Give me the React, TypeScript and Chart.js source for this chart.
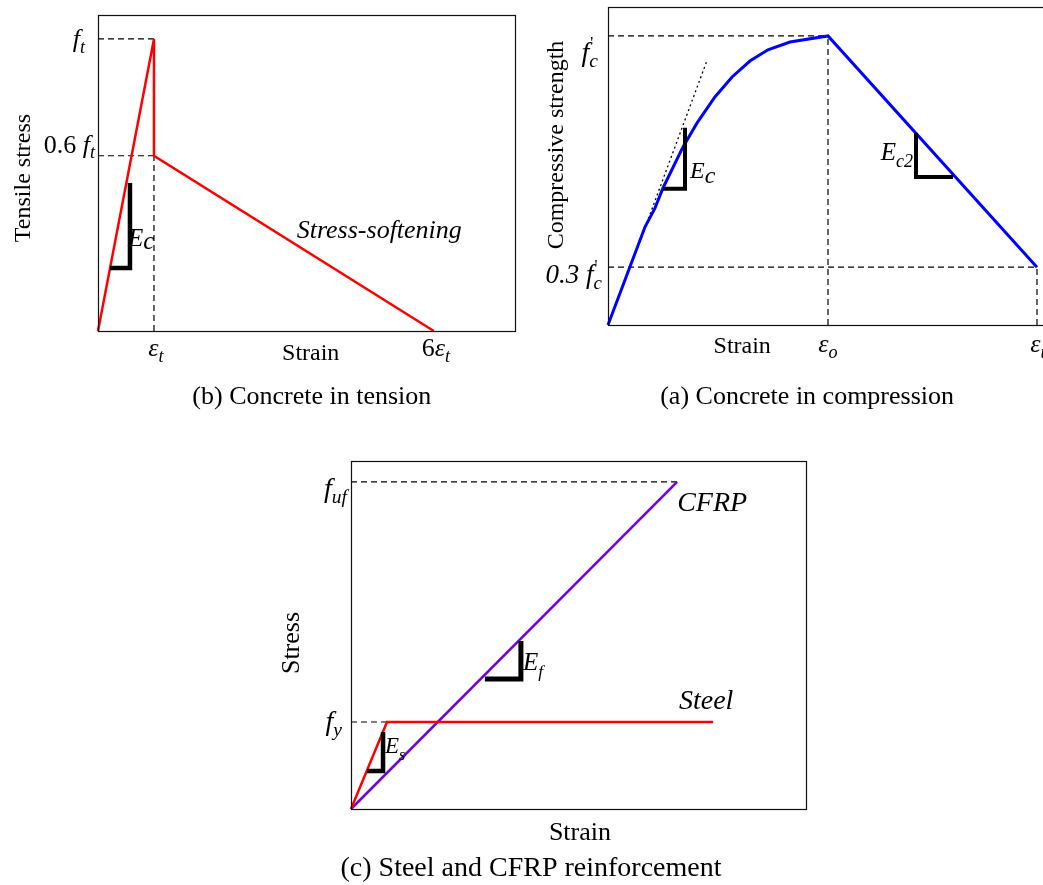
import React, { useEffect, useRef } from 'react';
import { Chart, registerables } from 'chart.js';

Chart.register(...registerables);

const SERIF = '"Liberation Serif", "Times New Roman", Times, serif';

// ---------- (b) Concrete in tension ----------
const tensionStrain = [0, 1, 1, 6];
const tensionStress = [0, 1, 0.6, 0];
const tensionYTicks = [1, 0.6];
const tensionYTickLabels = ['*f*_{t}', '0.6 *f*_{t}'];
const tensionXTicks = [1, 6];
const tensionXTickLabels = ['*ε*_{t}', '6*ε*_{t}'];
const tensionSlopeStrain = [0.214, 0.571, 0.571];
const tensionSlopeStress = [0.216, 0.216, 0.507];

// ---------- (a) Concrete in compression ----------
const compStrain = [0, 0.168, 0.214, 0.25, 0.341, 0.405, 0.486, 0.564, 0.645, 0.727, 0.827, 1, 1.95];
const compStress = [0, 0.339, 0.405, 0.474, 0.616, 0.699, 0.789, 0.858, 0.913, 0.952, 0.979, 1, 0.2];
const compYTicks = [1, 0.2];
const compYTickLabels = ["*f*^{'}_{c}", "*0.3 f*^{'}_{c}"];
const compXTicks = [1, 1.95];
const compXTickLabels = ['*ε*_{o}', '*ε*_{u}'];
const tangentStrain = [0.136, 0.45];
const tangentStress = [0.27, 0.915];
const ecSlopeStrain = [0.25, 0.35, 0.35];
const ecSlopeStress = [0.471, 0.471, 0.682];
const ec2SlopeStrain = [1.4, 1.4, 1.568];
const ec2SlopeStress = [0.664, 0.512, 0.512];

// ---------- (c) Steel and CFRP ----------
const steelStrain = [0, 1, 10.06];
const steelStress = [0, 1, 1];
const cfrpStrain = [0, 9.06];
const cfrpStress = [0, 3.76];
const reinfYTicks = [3.76, 1];
const reinfYTickLabels = ['*f*_{uf}', '*f*_{y}'];
const esSlopeStrain = [0.444, 0.89, 0.89];
const esSlopeStress = [0.437, 0.437, 0.885];
const efSlopeStrain = [3.72, 4.72, 4.72];
const efSlopeStress = [1.494, 1.494, 1.93];

type Seg = { t: string; it?: boolean; s?: number; dy?: number; dx?: number; adv?: boolean };
type RichOpts = { subScale?: number; subDy?: number };

function parseRich(src: string, opts: RichOpts = {}): Seg[] {
  const subScale = opts.subScale ?? 0.7;
  const subDy = opts.subDy ?? 0.22;
  const segs: Seg[] = [];
  let italic = false;
  let buf = '';
  const flush = () => {
    if (buf) {
      segs.push({ t: buf, it: italic });
      buf = '';
    }
  };
  let i = 0;
  while (i < src.length) {
    const c = src[i];
    if (c === '*') {
      flush();
      italic = !italic;
      i++;
      continue;
    }
    if ((c === '_' || c === '^') && src[i + 1] === '{') {
      flush();
      const end = src.indexOf('}', i);
      const txt = src.slice(i + 2, end);
      if (c === '_') segs.push({ t: txt, it: true, s: subScale, dy: subDy });
      else segs.push({ t: txt, it: false, s: 0.6, dy: -0.45, adv: false, dx: 1 });
      i = end + 1;
      continue;
    }
    buf += c;
    i++;
  }
  flush();
  return segs;
}

function fontFor(seg: Seg, size: number) {
  return `${seg.it ? 'italic ' : ''}${(size * (seg.s ?? 1)).toFixed(1)}px ${SERIF}`;
}

function drawRich(
  ctx: CanvasRenderingContext2D,
  src: string,
  x: number,
  y: number,
  size: number,
  align: 'left' | 'right' | 'center',
  opts: RichOpts = {}
) {
  const segs = parseRich(src, opts);
  ctx.textAlign = 'left';
  ctx.textBaseline = 'alphabetic';
  let total = 0;
  const widths = segs.map((s) => {
    ctx.font = fontFor(s, size);
    const w = ctx.measureText(s.t).width;
    if (s.adv !== false) total += w;
    return w;
  });
  let cx = align === 'left' ? x : align === 'right' ? x - total : x - total / 2;
  segs.forEach((s, k) => {
    ctx.font = fontFor(s, size);
    ctx.fillText(s.t, cx + (s.dx ?? 0), y + (s.dy ?? 0) * size);
    if (s.adv !== false) cx += widths[k];
  });
}

function drawVertical(ctx: CanvasRenderingContext2D, text: string, x: number, y: number, size: number) {
  ctx.save();
  ctx.translate(x, y);
  ctx.rotate(-Math.PI / 2);
  drawRich(ctx, text, 0, 0, size, 'center');
  ctx.restore();
}

function line(xs: number[], ys: number[], color: string, width: number, dash: number[] = []) {
  return {
    type: 'line',
    data: xs.map((x, i) => ({ x, y: ys[i] })),
    borderColor: color,
    borderWidth: width,
    borderDash: dash,
    borderCapStyle: 'butt',
    borderJoinStyle: 'miter',
    pointRadius: 0,
    fill: false,
    tension: 0,
    clip: false,
  };
}

type Helpers = {
  ctx: CanvasRenderingContext2D;
  px: (v: number) => number;
  py: (v: number) => number;
  a: { left: number; right: number; top: number; bottom: number };
};

function makeConfig(
  datasets: any[],
  xMax: number,
  yMax: number,
  padding: { left: number; top: number; right: number; bottom: number },
  drawLabels: (h: Helpers) => void
) {
  const decor = {
    id: 'decor',
    afterDatasetsDraw(chart: any) {
      const ctx = chart.ctx as CanvasRenderingContext2D;
      const a = chart.chartArea;
      ctx.save();
      ctx.strokeStyle = '#111';
      ctx.lineWidth = 1.2;
      ctx.strokeRect(
        Math.round(a.left) + 0.5,
        Math.round(a.top) + 0.5,
        Math.round(a.right - a.left),
        Math.round(a.bottom - a.top)
      );
      ctx.restore();
      ctx.save();
      ctx.fillStyle = '#000';
      drawLabels({
        ctx,
        px: (v) => chart.scales.x.getPixelForValue(v),
        py: (v) => chart.scales.y.getPixelForValue(v),
        a,
      });
      ctx.restore();
    },
  };
  return {
    type: 'line',
    data: { datasets },
    options: {
      animation: false,
      responsive: false,
      devicePixelRatio: 1,
      events: [],
      layout: { padding },
      scales: {
        x: { type: 'linear', min: 0, max: xMax, display: false },
        y: { type: 'linear', min: 0, max: yMax, display: false },
      },
      plugins: { legend: { display: false }, tooltip: { enabled: false } },
    },
    plugins: [decor],
  } as any;
}

const DASH = [6, 4];
const DASH_W = 1.2;

function tensionConfig() {
  const ds = [
    line(tensionSlopeStrain, tensionSlopeStress, '#000', 4.5),
    line(tensionStrain, tensionStress, '#ff0000', 2.5),
    line([0, tensionXTicks[0]], [tensionYTicks[0], tensionYTicks[0]], '#000', DASH_W, DASH),
    line([0, tensionXTicks[0]], [tensionYTicks[1], tensionYTicks[1]], '#000', DASH_W, DASH),
    line([tensionXTicks[0], tensionXTicks[0]], [0, tensionYTicks[1]], '#000', DASH_W, DASH),
  ];
  return makeConfig(ds, 7.45, 1.082, { left: 98, top: 15, right: 15, bottom: 89 }, ({ ctx, px, py, a }) => {
    drawRich(ctx, tensionYTickLabels[0], a.left - 13, py(tensionYTicks[0]) + 8, 26, 'right');
    drawRich(ctx, tensionYTickLabels[1], a.left - 3, py(tensionYTicks[1]) - 3, 26, 'right');
    tensionXTicks.forEach((v, i) => drawRich(ctx, tensionXTickLabels[i], px(v) + 2, a.bottom + 25, 26, 'center'));
    drawRich(ctx, 'Strain', px(3.8), a.bottom + 29, 24, 'center');
    drawRich(ctx, '(b) Concrete in tension', px(3.82), a.bottom + 73, 26, 'center');
    drawVertical(ctx, 'Tensile stress', 30, (a.top + a.bottom) / 2 + 5, 24);
    drawRich(ctx, '*Stress-softening*', px(3.55), py(0.318), 26, 'left');
    drawRich(ctx, '*E*_{c}', px(0.536), py(0.29), 25, 'left', { subScale: 1, subDy: 0.12 });
  });
}

function compressionConfig() {
  const ds = [
    line(ecSlopeStrain, ecSlopeStress, '#000', 4),
    line(ec2SlopeStrain, ec2SlopeStress, '#000', 4),
    line(compStrain, compStress, '#0000ff', 3),
    line(tangentStrain, tangentStress, '#000', 1.3, [2, 3]),
    line([0, compXTicks[0]], [compYTicks[0], compYTicks[0]], '#000', DASH_W, DASH),
    line([0, compXTicks[1]], [compYTicks[1], compYTicks[1]], '#000', DASH_W, DASH),
    line([compXTicks[0], compXTicks[0]], [0, compYTicks[0]], '#000', DASH_W, DASH),
    line([compXTicks[1], compXTicks[1]], [0, compYTicks[1]], '#000', DASH_W, DASH),
  ];
  return makeConfig(ds, 2.02, 1.1, { left: 78, top: 7, right: 22.6, bottom: 95 }, ({ ctx, px, py, a }) => {
    drawRich(ctx, compYTickLabels[0], a.left - 10, py(compYTicks[0]) + 25, 28, 'right');
    drawRich(ctx, compYTickLabels[1], a.left - 6, py(compYTicks[1]) + 16, 27, 'right');
    drawRich(ctx, compXTickLabels[0], px(compXTicks[0]), a.bottom + 27, 26, 'center');
    drawRich(ctx, compXTickLabels[1], px(compXTicks[1]) + 3, a.bottom + 27, 26, 'center');
    drawRich(ctx, 'Strain', px(0.61), a.bottom + 28, 24, 'center');
    drawRich(ctx, '(a) Concrete in compression', px(0.905), a.bottom + 79, 26, 'center');
    drawVertical(ctx, 'Compressive strength', 33, 145, 24);
    drawRich(ctx, '*E*_{c}', px(0.373), py(0.509), 24, 'left', { subScale: 1, subDy: 0.2 });
    drawRich(ctx, '*E*_{c2}', px(1.386), py(0.571), 25, 'right', { subScale: 0.72, subDy: 0.3 });
  });
}

function reinforcementConfig() {
  const ds = [
    line(esSlopeStrain, esSlopeStress, '#000', 4.5),
    line(efSlopeStrain, efSlopeStress, '#000', 5),
    line(steelStrain, steelStress, '#ff0000', 2.5),
    line(cfrpStrain, cfrpStress, '#7000e0', 2.5),
    line([0, cfrpStrain[1]], [reinfYTicks[0], reinfYTicks[0]], '#000', DASH_W, DASH),
    line([0, steelStrain[1]], [reinfYTicks[1], reinfYTicks[1]], '#000', DASH_W, DASH),
  ];
  return makeConfig(ds, 12.64, 4, { left: 81, top: 21, right: 24, bottom: 76 }, ({ ctx, px, py, a }) => {
    drawRich(ctx, reinfYTickLabels[0], a.left - 4, py(reinfYTicks[0]) + 15, 28, 'right');
    drawRich(ctx, reinfYTickLabels[1], a.left - 9, py(reinfYTicks[1]) + 8, 28, 'right');
    drawRich(ctx, 'Strain', px(6.36), a.bottom + 31, 26, 'center');
    drawRich(ctx, '(c) Steel and CFRP reinforcement', px(5.0), a.bottom + 67, 28, 'center');
    drawVertical(ctx, 'Stress', 29, (a.top + a.bottom) / 2 + 8, 26);
    drawRich(ctx, '*CFRP*', px(9.06), py(3.425), 28, 'left');
    drawRich(ctx, '*Steel*', px(9.11), py(1.15), 28, 'left');
    drawRich(ctx, '*E*_{f}', px(4.78), py(1.6), 25, 'left', { subScale: 0.7, subDy: 0.3 });
    drawRich(ctx, '*E*_{s}', px(0.944), py(0.644), 23, 'left', { subScale: 0.7, subDy: 0.3 });
  });
}

function Panel(props: {
  left: number;
  top: number;
  width: number;
  height: number;
  canvasWidth: number;
  make: () => any;
}) {
  const ref = useRef<HTMLCanvasElement>(null);
  useEffect(() => {
    const chart = new Chart(ref.current as HTMLCanvasElement, props.make());
    return () => chart.destroy();
  }, []);
  return (
    <div
      style={{
        position: 'absolute',
        left: props.left,
        top: props.top,
        width: props.width,
        height: props.height,
        overflow: 'hidden',
      }}
    >
      <canvas
        ref={ref}
        width={props.canvasWidth}
        height={props.height}
        style={{ display: 'block', width: props.canvasWidth, height: props.height }}
      />
    </div>
  );
}

export default function App() {
  return (
    <div>
      <Panel left={0} top={0} width={530} height={420} canvasWidth={530} make={tensionConfig} />
      <Panel left={530} top={0} width={513} height={420} canvasWidth={545} make={compressionConfig} />
      <Panel left={270} top={440} width={560} height={445} canvasWidth={560} make={reinforcementConfig} />
    </div>
  );
}
